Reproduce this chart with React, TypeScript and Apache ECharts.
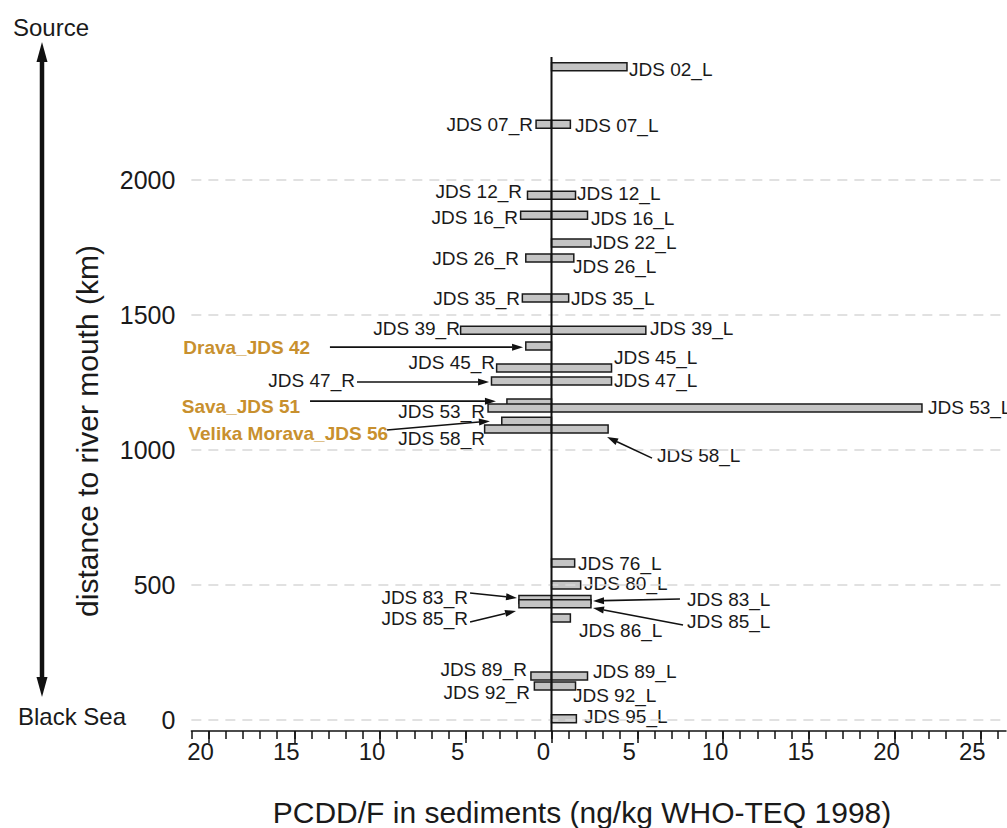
import React, { useEffect, useRef } from "react";
import * as echarts from "echarts";

const FONT = '"Liberation Sans", Arial, Helvetica, sans-serif';

// ---- Bars: station, distance to river mouth (km), PCDD/F value (R side negative) ----
const barNames = [
  "JDS 02_L", "JDS 07_R", "JDS 07_L", "JDS 12_R", "JDS 12_L", "JDS 16_R", "JDS 16_L",
  "JDS 22_L", "JDS 26_R", "JDS 26_L", "JDS 35_R", "JDS 35_L", "JDS 39_R", "JDS 39_L",
  "Drava_JDS 42", "JDS 45_R", "JDS 45_L", "JDS 47_R", "JDS 47_L", "Sava_JDS 51",
  "JDS 53_R", "JDS 53_L", "Velika Morava_JDS 56", "JDS 58_R", "JDS 58_L",
  "JDS 76_L", "JDS 80_L", "JDS 83_R", "JDS 83_L", "JDS 85_R", "JDS 85_L", "JDS 86_L",
  "JDS 89_R", "JDS 89_L", "JDS 92_R", "JDS 92_L", "JDS 95_L",
];
const barKm = [
  2420, 2207, 2207, 1944, 1944, 1870, 1870,
  1767, 1711, 1711, 1563, 1563, 1444, 1444,
  1385, 1304, 1304, 1256, 1256, 1174,
  1156, 1156, 1107, 1078, 1078,
  581, 500, 446, 446, 430, 430, 378,
  163, 163, 126, 126, 4,
];
const barValues = [
  4.4, -0.9, 1.1, -1.4, 1.4, -1.8, 2.1,
  2.3, -1.5, 1.3, -1.7, 1.0, -5.3, 5.5,
  -1.5, -3.2, 3.5, -3.5, 3.5, -2.6,
  -3.7, 21.6, -2.9, -3.9, 3.3,
  1.35, 1.7, -1.9, 2.3, -1.9, 2.3, 1.1,
  -1.2, 2.1, -1.0, 1.4, 1.45,
];

// ---- Station labels (placed in data coordinates) ----
const labelTexts = [
  "JDS 02_L", "JDS 07_R", "JDS 07_L", "JDS 12_R", "JDS 12_L", "JDS 16_R", "JDS 16_L",
  "JDS 22_L", "JDS 26_R", "JDS 26_L", "JDS 35_R", "JDS 35_L", "JDS 39_R", "JDS 39_L",
  "JDS 45_R", "JDS 45_L", "JDS 47_R", "JDS 47_L", "JDS 53_R", "JDS 53_L",
  "JDS 58_R", "JDS 58_L", "JDS 76_L", "JDS 80_L", "JDS 83_R", "JDS 85_R",
  "JDS 83_L", "JDS 85_L", "JDS 86_L", "JDS 89_R", "JDS 89_L", "JDS 92_R",
  "JDS 92_L", "JDS 95_L",
];
const labelX = [
  4.52, -1.08, 1.37, -1.72, 1.49, -1.95, 2.3,
  2.42, -1.9, 1.25, -1.84, 1.14, -5.34, 5.74,
  -3.29, 3.64, -11.46, 3.64, -3.88, 21.95,
  -3.88, 6.15, 1.55, 1.9, -4.87, -4.87,
  7.9, 7.9, 1.6, -1.43, 2.42, -1.25,
  1.25, 1.9,
];
const labelKm = [
  2411, 2207, 2204, 1956, 1952, 1863, 1859,
  1767, 1711, 1681, 1563, 1563, 1452, 1452,
  1326, 1344, 1256, 1256, 1144, 1156,
  1041, 978, 581, 504, 452, 374,
  448, 363, 333, 185, 178, 100,
  89, 11,
];
const labelAlign = labelX.map((v) => (v < 0 ? "right" : "left"));

// ---- Tributary labels ----
const riverTexts = ["Drava_JDS 42", "Sava_JDS 51", "Velika Morava_JDS 56"];
const riverX = [-14.08, -14.66, -9.53];
const riverKm = [1381, 1163, 1063];

// ---- Arrows (from value, from km, to value, to km) ----
const arrowFromX = [-12.92, -11.34, -14.08, -9.59, 5.86, -4.75, -4.75, 7.49, 7.67];
const arrowFromKm = [1381, 1252, 1181, 1074, 970, 470, 363, 448, 352];
const arrowToX = [-1.66, -3.64, -3.24, -3.59, 3.24, -2.01, -2.07, 2.42, 2.42];
const arrowToKm = [1381, 1252, 1181, 1107, 1048, 452, 404, 441, 415];

// ---- Axes ----
const X_MIN = -21;
const X_MAX = 26.5;
const Y_MIN = -41;
const Y_MAX = 2456;
const xMajorTicks = [-20, -15, -10, -5, 0, 5, 10, 15, 20, 25];
const xMinorTicks = Array.from({ length: 48 }, (_, i) => i - 21);
const yTicks = [0, 500, 1000, 1500, 2000];

export default function App() {
  const ref = useRef<HTMLDivElement>(null);

  useEffect(() => {
    if (!ref.current) return;
    const chart = echarts.init(ref.current, undefined, { renderer: "svg" });

    const option: any = {
      animation: false,
      backgroundColor: "#ffffff",
      grid: { left: 191.35, right: 1.0, top: 57, bottom: 97, containLabel: false },
      xAxis: [
        {
          type: "value",
          min: X_MIN,
          max: X_MAX,
          position: "bottom",
          axisLine: { show: true, onZero: false, lineStyle: { color: "#111", width: 1.5 } },
          axisTick: {
            show: true,
            customValues: xMajorTicks,
            length: 12,
            lineStyle: { color: "#111", width: 1.5 },
          },
          axisLabel: {
            customValues: xMajorTicks,
            formatter: (v: number) => String(Math.abs(v)),
            fontSize: 24,
            fontFamily: FONT,
            color: "#1a1a1a",
            margin: 8,
            padding: [0, 16, 0, 0],
          },
          splitLine: { show: false },
        },
        {
          type: "value",
          min: X_MIN,
          max: X_MAX,
          position: "bottom",
          offset: 0,
          axisLine: { show: false, onZero: false },
          axisTick: {
            show: true,
            customValues: xMinorTicks,
            length: 8,
            lineStyle: { color: "#111", width: 1.5 },
          },
          axisLabel: { show: false },
          splitLine: { show: false },
        },
      ],
      yAxis: {
        type: "value",
        min: Y_MIN,
        max: Y_MAX,
        axisLine: { show: false },
        axisTick: { show: false },
        axisLabel: {
          customValues: yTicks,
          formatter: (v: number) => String(v),
          fontSize: 25,
          fontFamily: FONT,
          color: "#1a1a1a",
          margin: 16,
        },
        splitLine: { show: false },
      },
      graphic: [
        { type: "line", shape: { x1: 42, y1: 56, x2: 42, y2: 683 }, style: { stroke: "#111", lineWidth: 4.5 } },
        { type: "polygon", shape: { points: [[42, 42], [36.5, 62], [47.5, 62]] }, style: { fill: "#111" } },
        { type: "polygon", shape: { points: [[42, 697], [36.5, 677], [47.5, 677]] }, style: { fill: "#111" } },
        {
          type: "text", x: 51, y: 27,
          style: { text: "Source", fontSize: 24, fontFamily: FONT, fill: "#1a1a1a", align: "center", verticalAlign: "middle" },
        },
        {
          type: "text", x: 72, y: 716,
          style: { text: "Black Sea", fontSize: 24, fontFamily: FONT, fill: "#1a1a1a", align: "center", verticalAlign: "middle" },
        },
        {
          type: "text", x: 87, y: 431, rotation: Math.PI / 2,
          style: { text: "distance to river mouth (km)", fontSize: 30, fontFamily: FONT, fill: "#1a1a1a", align: "center", verticalAlign: "middle" },
        },
        {
          type: "text", x: 582, y: 812,
          style: { text: "PCDD/F in sediments (ng/kg WHO-TEQ 1998)", fontSize: 30, fontFamily: FONT, fill: "#1a1a1a", align: "center", verticalAlign: "middle" },
        },
      ],
      series: [
        {
          name: "grid",
          type: "line",
          data: [],
          z: 0,
          markLine: {
            silent: true,
            symbol: "none",
            label: { show: false },
            lineStyle: { color: "#d8d8d8", width: 1.5, type: [10, 7] },
            data: yTicks.map((v) => ({ yAxis: v })),
          },
        },
        {
          name: "PCDD/F",
          type: "custom",
          z: 2,
          data: barKm.map((k, i) => [barValues[i], k, barNames[i]]),
          encode: { x: 0, y: 1 },
          renderItem: (params: any, api: any) => {
            const v = api.value(0);
            const k = api.value(1);
            const p0 = api.coord([0, k]);
            const p1 = api.coord([v, k]);
            const h = 8;
            return {
              type: "rect",
              shape: { x: Math.min(p0[0], p1[0]), y: p0[1] - h / 2, width: Math.abs(p1[0] - p0[0]), height: h },
              style: { fill: "#c4c4c4", stroke: "#1a1a1a", lineWidth: 1.5 },
            };
          },
        },
        {
          name: "zero",
          type: "line",
          z: 6,
          symbol: "none",
          data: [[0, Y_MIN], [0, Y_MAX]],
          lineStyle: { color: "#111", width: 2 },
        },
        {
          name: "labels",
          type: "custom",
          z: 4,
          data: labelX.map((x, i) => [x, labelKm[i]]),
          encode: { x: 0, y: 1 },
          renderItem: (params: any, api: any) => {
            const i = params.dataIndex;
            const p = api.coord([api.value(0), api.value(1)]);
            return {
              type: "text",
              x: p[0],
              y: p[1],
              style: {
                text: labelTexts[i],
                fontSize: 19,
                fontFamily: FONT,
                fill: "#1a1a1a",
                align: labelAlign[i],
                verticalAlign: "middle",
              },
            };
          },
        },
        {
          name: "rivers",
          type: "custom",
          z: 4,
          data: riverX.map((x, i) => [x, riverKm[i]]),
          encode: { x: 0, y: 1 },
          renderItem: (params: any, api: any) => {
            const i = params.dataIndex;
            const p = api.coord([api.value(0), api.value(1)]);
            return {
              type: "text",
              x: p[0],
              y: p[1],
              style: {
                text: riverTexts[i],
                fontSize: 19,
                fontWeight: "bold",
                fontFamily: FONT,
                fill: "#C8902E",
                align: "right",
                verticalAlign: "middle",
              },
            };
          },
        },
        {
          name: "arrows",
          type: "custom",
          z: 5,
          data: arrowFromX.map((x, i) => [x, arrowFromKm[i], arrowToX[i], arrowToKm[i]]),
          encode: { x: [0, 2], y: [1, 3] },
          renderItem: (params: any, api: any) => {
            const a = api.coord([api.value(0), api.value(1)]);
            const b = api.coord([api.value(2), api.value(3)]);
            const dx = b[0] - a[0];
            const dy = b[1] - a[1];
            const len = Math.sqrt(dx * dx + dy * dy) || 1;
            const ux = dx / len;
            const uy = dy / len;
            const hl = 11;
            const hw = 3.5;
            const bx = b[0] - ux * hl;
            const by = b[1] - uy * hl;
            return {
              type: "group",
              children: [
                {
                  type: "line",
                  shape: { x1: a[0], y1: a[1], x2: bx, y2: by },
                  style: { stroke: "#111", lineWidth: 1.6 },
                },
                {
                  type: "polygon",
                  shape: {
                    points: [
                      [b[0], b[1]],
                      [bx - uy * hw, by + ux * hw],
                      [bx + uy * hw, by - ux * hw],
                    ],
                  },
                  style: { fill: "#111" },
                },
              ],
            };
          },
        },
      ],
    };

    chart.setOption(option);
    return () => chart.dispose();
  }, []);

  return (
    <div
      ref={ref}
      style={{ position: "fixed", left: 0, top: 0, width: 1007, height: 828, background: "#fff" }}
    />
  );
}
